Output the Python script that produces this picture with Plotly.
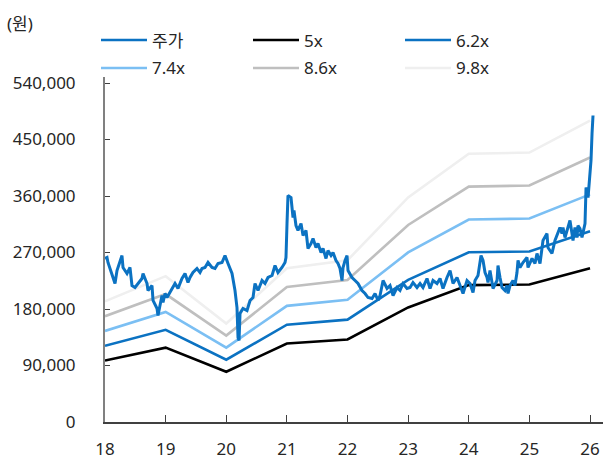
import plotly.graph_objects as go

# ---- data (values in KRW) ----
band_years = [18, 19, 20, 21, 22, 23, 24, 25, 26]
band_5x  = [98000, 118500, 80000, 125000, 131500, 182500, 218000, 219000, 245000]
band_62x = [121500, 146900, 99200, 155000, 163100, 226300, 270300, 271600, 303800]
band_74x = [145000, 175400, 118400, 185000, 194600, 270100, 322600, 324100, 362600]
band_86x = [168600, 203800, 137600, 215000, 226200, 313900, 375000, 376700, 421400]
band_98x = [192100, 232300, 156800, 245000, 257700, 357700, 427300, 429200, 480200]

price_t = [18.000, 18.033, 18.049, 18.115, 18.165, 18.198, 18.247, 18.280, 18.297, 18.363,
           18.412, 18.445, 18.495, 18.544, 18.610, 18.627, 18.693, 18.709, 18.775, 18.792,
           18.825, 18.858, 18.874, 18.907, 18.940, 18.957, 18.990, 19.023, 19.072, 19.105,
           19.155, 19.204, 19.270, 19.320, 19.369, 19.402, 19.451, 19.517, 19.567, 19.600,
           19.649, 19.699, 19.765, 19.814, 19.864, 19.930, 19.979, 20.029, 20.095, 20.144,
           20.177, 20.194, 20.211, 20.227, 20.276, 20.342, 20.392, 20.441, 20.474, 20.524,
           20.590, 20.639, 20.689, 20.755, 20.804, 20.853, 20.919, 20.969, 20.985, 21.002,
           21.018, 21.068, 21.101, 21.117, 21.150, 21.183, 21.233, 21.266, 21.315, 21.348,
           21.398, 21.431, 21.480, 21.513, 21.563, 21.596, 21.645, 21.678, 21.728, 21.761,
           21.810, 21.843, 21.876, 21.909, 21.926, 21.959, 21.992, 22.008, 22.041, 22.074,
           22.124, 22.173, 22.239, 22.289, 22.338, 22.404, 22.454, 22.503, 22.536, 22.586,
           22.652, 22.701, 22.751, 22.817, 22.866, 22.916, 22.981, 23.031, 23.080, 23.146,
           23.196, 23.245, 23.311, 23.361, 23.410, 23.476, 23.526, 23.575, 23.641, 23.691,
           23.740, 23.806, 23.856, 23.905, 23.971, 24.020, 24.070, 24.103, 24.152, 24.202,
           24.235, 24.268, 24.301, 24.317, 24.350, 24.383, 24.400, 24.466, 24.482, 24.515,
           24.548, 24.597, 24.630, 24.647, 24.680, 24.729, 24.762, 24.795, 24.812, 24.845,
           24.894, 24.960, 24.977, 25.043, 25.092, 25.125, 25.175, 25.224, 25.290, 25.306,
           25.372, 25.422, 25.471, 25.504, 25.537, 25.554, 25.587, 25.636, 25.669, 25.702,
           25.719, 25.752, 25.785, 25.801, 25.834, 25.867, 25.884, 25.917, 25.934, 25.950,
           25.967, 25.983, 26.016, 26.033, 26.049]
price_v = [260500, 262000, 254100, 236600, 220600, 241300, 257300, 265200, 246100, 236600,
           246100, 217400, 214300, 220600, 228600, 236600, 220600, 209500, 217400, 193600,
           185600, 180800, 169700, 188800, 201500, 190400, 204700, 198300, 206300, 212700,
           220600, 212700, 228600, 236600, 222200, 230200, 238100, 244500, 238100, 244500,
           246100, 254100, 246100, 244500, 252500, 254100, 265200, 252500, 236600, 209500,
           182400, 134600, 129800, 172800, 180800, 177600, 193600, 198300, 220600, 209500,
           225400, 220600, 230200, 233400, 249300, 238100, 246100, 254100, 262000, 316200,
           360800, 357600, 325800, 336900, 313000, 305100, 316200, 297100, 305100, 276400,
           284300, 292300, 277900, 284300, 270000, 276400, 260500, 273200, 265200, 270000,
           257300, 252500, 244500, 225400, 246100, 257300, 265200, 241300, 236600, 230200,
           225400, 220600, 209500, 204700, 198300, 196700, 204700, 193600, 201500, 225400,
           212700, 217400, 201500, 214300, 209500, 220600, 212700, 214300, 222200, 214300,
           220600, 214300, 228600, 212700, 225400, 220600, 228600, 212700, 230200, 241300,
           220600, 230200, 217400, 204700, 225400, 220600, 206300, 225400, 233400, 265200,
           257300, 238100, 230200, 222200, 241300, 220600, 212700, 225400, 249300, 230200,
           214300, 209500, 217400, 204700, 217400, 225400, 217400, 238100, 257300, 246100,
           254100, 262000, 246100, 260500, 252500, 268400, 252500, 289100, 300300, 277900,
           268400, 289100, 300300, 309800, 300300, 309800, 293900, 308200, 321000, 300300,
           289100, 309800, 293900, 313000, 308200, 293900, 300300, 316200, 373600, 368800,
           357600, 379900, 416600, 459600, 488300]

y_ticks = [0, 90000, 180000, 270000, 360000, 450000, 540000]
x_ticks = [18, 19, 20, 21, 22, 23, 24, 25, 26]

series = [
    ("5x", band_5x, "#000000"),
    ("6.2x", band_62x, "#0B72C2"),
    ("7.4x", band_74x, "#7BBFF3"),
    ("8.6x", band_86x, "#BFBFBF"),
    ("9.8x", band_98x, "#EFEFEF"),
]
price_color = "#0B72C2"

W, H = 603, 462
L, R, T, B = 105, 0, 77, 40
PW, PH = W - L - R, H - T - B
FONT = "Noto Sans, Noto Sans CJK KR, sans-serif"
TXT = "#262626"

fig = go.Figure()
for name, vals, col in reversed(series):
    fig.add_trace(go.Scatter(x=band_years, y=vals, mode="lines", name=name,
                             line=dict(color=col, width=2.6), showlegend=False))
fig.add_trace(go.Scatter(x=price_t, y=price_v, mode="lines", name="주가",
                         line=dict(color=price_color, width=3), showlegend=False))

def px_x(p):
    return (p - L) / PW

def px_y(p):
    return (H - B - p) / PH

# manual legend (3 columns x 2 rows)
legend_items = [("주가", price_color)] + [(n, c) for n, _, c in series]
col_x = [101, 253, 405]
row_y = [40, 68]
shapes, annos = [], []
for i, (name, col) in enumerate(legend_items):
    cx = col_x[i % 3]
    ry = row_y[i // 3]
    shapes.append(dict(type="line", xref="paper", yref="paper",
                       x0=px_x(cx), x1=px_x(cx + 46), y0=px_y(ry), y1=px_y(ry),
                       line=dict(color=col, width=2.6)))
    annos.append(dict(text=name, xref="paper", yref="paper", x=px_x(cx + 49), y=px_y(ry),
                      xanchor="left", yanchor="middle", showarrow=False,
                      font=dict(size=17, color=TXT, family=FONT)))
annos.append(dict(text="(원)", xref="paper", yref="paper", x=px_x(5), y=px_y(23),
                  xanchor="left", yanchor="middle", showarrow=False,
                  font=dict(size=17, color=TXT, family=FONT)))

fig.update_layout(
    width=W, height=H, margin=dict(l=L, r=R, t=T, b=B),
    paper_bgcolor="white", plot_bgcolor="white",
    font=dict(family=FONT, size=17, color=TXT),
    shapes=shapes, annotations=annos, showlegend=False,
    xaxis=dict(range=[18, 18 + PW / 60.63], tickvals=x_ticks, ticktext=[str(v) for v in x_ticks],
               showgrid=False, zeroline=False, showline=True, linecolor="#404040", linewidth=1.5,
               ticks="inside", ticklen=7, tickwidth=1.2, tickcolor="#404040",
               ticklabelstandoff=11, tickfont=dict(size=17)),
    yaxis=dict(range=[0, PH * 1593], tickvals=y_ticks, tickformat=",d",
               showgrid=False, zeroline=False, showline=True, linecolor="#808080", linewidth=2,
               ticks="inside", ticklen=5, tickwidth=1.2, tickcolor="#404040",
               ticklabelstandoff=24, tickfont=dict(size=17)),
)

fig.write_html("out.html")
